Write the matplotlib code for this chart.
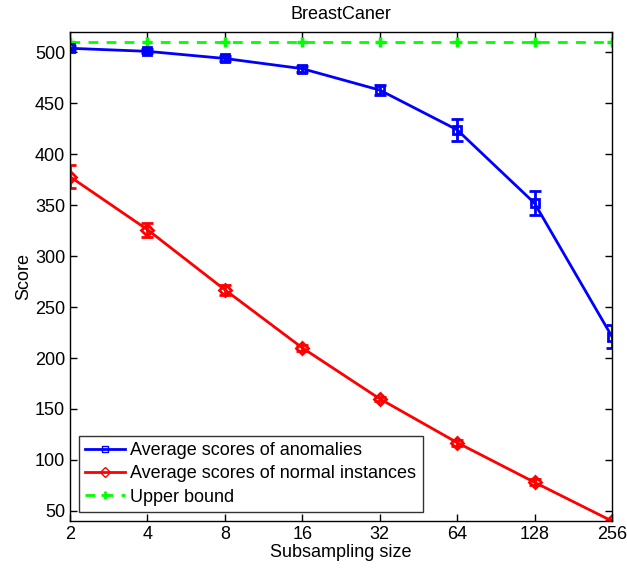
import numpy as np
import matplotlib.pyplot as plt
from matplotlib.lines import Line2D

plt.rcParams['font.family'] = ['Liberation Sans', 'DejaVu Sans']

sizes = [2, 4, 8, 16, 32, 64, 128, 256]
anomaly_scores = [504, 501, 494, 484, 463, 424, 352, 221]
anomaly_err = [2, 2, 2, 3, 5, 11, 12, 11]
normal_scores = [378, 326, 267, 210, 160, 117, 78, 40]
normal_err = [11, 7, 5, 3, 2, 3, 3, 1]
upper_bound = [510] * len(sizes)

fig = plt.figure(figsize=(6.27, 5.68), dpi=100)
ax = fig.add_axes([0.1116, 0.0827, 0.8644, 0.861])

ax.errorbar(sizes, anomaly_scores, yerr=anomaly_err, color='#0000ff', lw=2,
            marker='s', ms=6, mfc='none', mew=2, capsize=4, capthick=2,
            elinewidth=2)
ax.errorbar(sizes, normal_scores, yerr=normal_err, color='#ff0000', lw=2,
            marker='D', ms=6, mfc='none', mew=2, capsize=4, capthick=2,
            elinewidth=2)
ax.plot(sizes, upper_bound, color='#00ff00', lw=2, ls=(0, (3.5, 3)),
        marker='+', ms=7, mew=2.5)

ax.set_xscale('log', base=2)
ax.set_xlim(2, 256)
ax.set_ylim(40, 520)
ax.set_xticks(sizes)
ax.set_xticklabels([str(s) for s in sizes])
ax.minorticks_off()
ax.set_yticks(np.arange(50, 501, 50))
ax.tick_params(direction='in', top=True, right=True, labelsize=13, length=5, width=1)
for s in ax.spines.values():
    s.set_linewidth(1)

ax.set_title('BreastCaner', fontsize=13, pad=9)
ax.set_xlabel('Subsampling size', fontsize=13, labelpad=1)
ax.set_ylabel('Score', fontsize=13, labelpad=2)

# legend entries: plain line + marker, no error bars
handles = [
    Line2D([], [], color='#0000ff', lw=2, marker='s', ms=5, mfc='none', mew=1),
    Line2D([], [], color='#ff0000', lw=2, marker='D', ms=5, mfc='none', mew=1),
    Line2D([], [], color='#00ff00', lw=2, ls=(0, (3.5, 3)), marker='+', ms=6, mew=2),
]
labels = ['Average scores of anomalies',
          'Average scores of normal instances',
          'Upper bound']
leg = ax.legend(handles, labels, loc='lower left', fontsize=13, frameon=True,
                fancybox=False, edgecolor='black', borderaxespad=0.5,
                handlelength=2.2, handletextpad=0.3, borderpad=0.35,
                labelspacing=0.35)
leg.get_frame().set_linewidth(1)

fig.savefig('out.png', dpi=100)
